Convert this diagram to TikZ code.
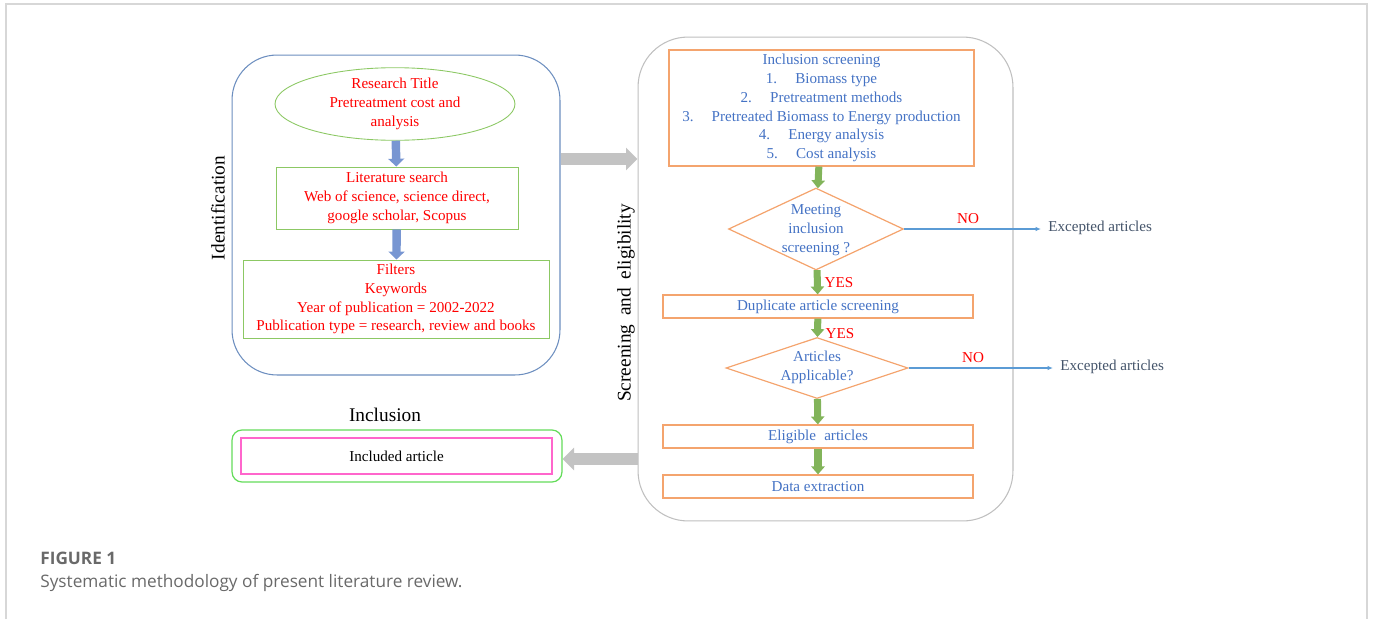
\documentclass[tikz,border=0pt]{standalone}
\usepackage{fontspec}
\setmainfont{Liberation Serif}
\newfontfamily\capfont{Open Sans}
\usetikzlibrary{shapes.geometric,arrows.meta}

\definecolor{rojo}{RGB}{255,0,0}
\definecolor{azultexto}{RGB}{68,114,196}
\definecolor{verdeborde}{RGB}{140,200,100}
\definecolor{azulborde}{RGB}{108,142,191}
\definecolor{naranja}{RGB}{244,164,110}
\definecolor{grisborde}{RGB}{191,191,191}
\definecolor{grisflecha}{RGB}{195,195,195}
\definecolor{verdeflecha}{RGB}{130,180,90}
\definecolor{azulflecha}{RGB}{120,150,210}
\definecolor{azullinea}{RGB}{91,155,213}
\definecolor{verdeclaro}{RGB}{100,220,90}
\definecolor{rosa}{RGB}{255,102,204}
\definecolor{grisoscuro}{RGB}{68,84,106}
\definecolor{grismarco}{RGB}{215,215,215}
\definecolor{gristexto}{RGB}{105,105,105}

\begin{document}
\begin{tikzpicture}[x=0.02cm, y=-0.02cm,
    every node/.style={font=\fontsize{8.6}{10.7}\selectfont, align=center, inner sep=0pt},
    caja/.style={draw=naranja, line width=0.7pt, text=azultexto},
    cajaverde/.style={draw=verdeborde, line width=0.5pt, text=rojo},
    rombo/.style={draw=naranja, line width=0.7pt, diamond},
    flechaverde/.style={line width=4pt, verdeflecha, -{Triangle[length=4.5pt, width=7.5pt]}},
    flechaazul/.style={line width=4.8pt, azulflecha, -{Triangle[length=4.5pt, width=9pt]}},
    flechagris/.style={line width=6.5pt, grisflecha, -{Triangle[length=6.5pt, width=12.5pt]}},
    lineano/.style={azullinea, line width=0.6pt, -{Latex[length=3pt, width=2.5pt]}},
    etiqueta/.style={text=rojo},
    descarte/.style={text=grisoscuro, anchor=west},
    seccion/.style={font=\fontsize{11}{13}\selectfont}
  ]
  \useasboundingbox (0,0) rectangle (1373,619);

  % Marco de la figura
  \draw[grismarco, line width=0.9pt] (6,619) -- (6,4) -- (1367,4) -- (1367,619);

  % Bloque de identificacion
  \node[draw=azulborde, line width=0.6pt, rounded corners=0.9cm,
        minimum width=6.56cm, minimum height=6.4cm] (idbox) at (396,215) {};
  \node[seccion, rotate=90] (ident) at (218,208) {Identification};
  \node[ellipse, cajaverde, minimum width=4.8cm, minimum height=1.28cm] (titulo) at (395,104)
    {Research Title\\Pretreatment cost and\\analysis};
  \node[cajaverde, minimum width=4.84cm, minimum height=1.24cm] (busqueda) at (397,198)
    {Literature search\\Web of science, science direct,\\google scholar, Scopus};
  \node[cajaverde, minimum width=6.12cm, minimum height=1.56cm] (filtros) at (396,299)
    {Filters\\Keywords\\Year of publication = 2002-2022\\Publication type = research, review and books};
  \draw[flechaazul] (titulo) -- (busqueda);
  \draw[flechaazul] (busqueda) -- (filtros);

  % Bloque de cribado y elegibilidad
  \node[draw=grisborde, line width=0.6pt, rounded corners=1cm,
        minimum width=7.5cm, minimum height=9.68cm] (scrbox) at (825.5,279) {};
  \node[seccion, rotate=90] (screen) at (626,303) {Screening\hspace{0.45em}and\hspace{0.45em}eligibility};
  \node[caja, minimum width=6.1cm, minimum height=2.32cm] (criterios) at (821.5,108)
    {Inclusion screening\\
     1.\hspace{1.2em}Biomass type\\
     2.\hspace{1.2em}Pretreatment methods\\
     3.\hspace{1.2em}Pretreated Biomass to Energy production\\
     4.\hspace{1.2em}Energy analysis\\
     5.\hspace{1.2em}Cost analysis};
  \node[rombo, minimum width=3.5cm, minimum height=1.64cm] (dia1) at (816,229) {};
  \node[text=azultexto] (dia1txt) at (816,230) {Meeting\\inclusion\\screening ?};
  \node[caja, minimum width=6.2cm, minimum height=0.46cm] (duplic) at (818,306.5) {Duplicate article screening};
  \node[rombo, minimum width=3.64cm, minimum height=1.22cm] (dia2) at (817,368) {};
  \node[text=azultexto] (dia2txt) at (817,367) {Articles\\Applicable?};
  \node[caja, minimum width=6.2cm, minimum height=0.46cm] (eleg) at (818,436.5) {Eligible\hspace{0.3em} articles};
  \node[caja, minimum width=6.2cm, minimum height=0.46cm] (datos) at (818,486.5) {Data extraction};

  \draw[flechaverde] (criterios) -- (dia1);
  \draw[flechaverde] (dia1) -- (duplic);
  \draw[flechaverde] (duplic) -- (dia2);
  \draw[flechaverde] (dia2) -- (eleg);
  \draw[flechaverde] (eleg) -- (datos);
  \node[etiqueta] (si1) at (839,283) {YES};
  \node[etiqueta] (si2) at (840,334) {YES};

  % Articulos descartados
  \node[descarte] (exc1) at (1048,228) {Excepted articles};
  \node[descarte] (exc2) at (1060,367) {Excepted articles};
  \draw[lineano] (dia1.east) -- ([xshift=-4pt]dia1.east -| exc1.west);
  \draw[lineano] (dia2.east) -- ([xshift=-4pt]dia2.east -| exc2.west);
  \node[etiqueta] (no1) at (968,219) {NO};
  \node[etiqueta] (no2) at (973,358) {NO};

  % Bloque de inclusion
  \node[seccion] (inclus) at (385,415) {Inclusion};
  \node[draw=verdeclaro, line width=0.7pt, rounded corners=0.2cm,
        minimum width=6.6cm, minimum height=1.04cm] (inclbox) at (397,456) {};
  \node[draw=rosa, line width=0.7pt, minimum width=6.22cm, minimum height=0.72cm] (incluido) at (396.5,456)
    {Included article};

  % Flechas grises entre bloques
  \coordinate (g1) at (0,159);
  \coordinate (g2) at (0,459);
  \draw[flechagris] (idbox.east |- g1) -- (scrbox.west |- g1);
  \draw[flechagris] (scrbox.west |- g2) -- (inclbox.east |- g2);

  % Pie de figura
  \node[anchor=west, text=gristexto, font=\capfont\bfseries\fontsize{9.8}{12}\selectfont] (fig) at (40,558) {FIGURE 1};
  \node[anchor=west, text=gristexto, font=\capfont\fontsize{9.8}{12}\selectfont] (pie) at (40,583)
    {Systematic methodology of present literature review.};
\end{tikzpicture}
\end{document}
